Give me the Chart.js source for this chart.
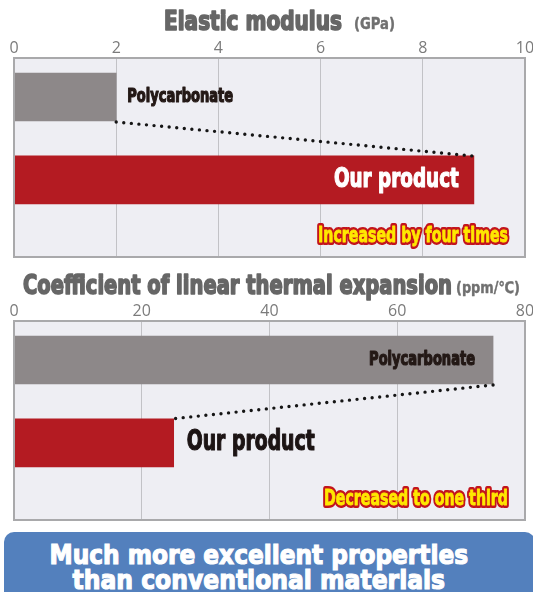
<!DOCTYPE html>
<html lang="en">
<head>
<meta charset="UTF-8">
<title>Elastic modulus and thermal expansion</title>
<script src="https://cdn.jsdelivr.net/npm/chart.js"></script>
<style>
  html, body { margin: 0; padding: 0; background: #fff; }
  body { width: 533px; height: 592px; position: relative; overflow: hidden; }
  canvas { position: absolute; left: 0; }
  #banner { position: absolute; left: 4px; top: 532px; width: 531px; height: 80px;
            background: #5380bd; border-radius: 10px; }
  .bannerLine { position: absolute; left: 0; white-space: nowrap; color: #fff;
                font: bold 26px 'DejaVu Sans', sans-serif; line-height: 26px;
                -webkit-text-stroke: 1.2px #fff; transform-origin: 0 0; }
</style>
</head>
<body>
<canvas id="elasticChart" width="533" height="262" style="top:0"></canvas>
<canvas id="expansionChart" width="533" height="262" style="top:263px"></canvas>
<div id="banner"></div>
<div class="bannerLine" id="line1">Much more excellent properties</div>
<div class="bannerLine" id="line2">than conventional materials</div>

<script>
  // data
  const elasticCategories = ['Polycarbonate', 'Our product'];
  const elasticValues = [2, 9];
  const elasticTicks = [0, 2, 4, 6, 8, 10];
  const elasticTitle = 'Elastic modulus';
  const elasticUnit = '(GPa)';
  const elasticNote = 'Increased by four times';

  const expansionCategories = ['Polycarbonate', 'Our product'];
  const expansionValues = [75, 25];
  const expansionTicks = [0, 20, 40, 60, 80];
  const expansionTitle = 'Coefficient of linear thermal expansion';
  const expansionUnit = '(ppm/℃)';
  const expansionNote = 'Decreased to one third';

  const GRAY = '#8d8889';
  const RED = '#b41b22';
  const CONDENSED = "'Liberation Sans Narrow', 'DejaVu Sans Condensed', sans-serif";

  // draws bold condensed text squeezed to a given width, a bit heavier than the font
  function fitText(ctx, text, x, y, size, width, align, color, stroke, heavy) {
    ctx.save();
    ctx.font = 'bold ' + size + 'px ' + CONDENSED;
    const sx = width / ctx.measureText(text).width;
    ctx.translate(x, y);
    ctx.scale(sx, 1);
    ctx.textAlign = align;
    ctx.textBaseline = 'middle';
    ctx.lineJoin = 'round';
    if (stroke) {
      ctx.lineWidth = 6;
      ctx.strokeStyle = stroke;
      ctx.strokeText(text, 0, 0);
    }
    if (heavy) {
      ctx.lineWidth = heavy;
      ctx.strokeStyle = color;
      ctx.strokeText(text, 0, 0);
    }
    ctx.fillStyle = color;
    ctx.fillText(text, 0, 0);
    ctx.restore();
  }

  const panelPlugin = {
    id: 'panel',
    beforeDraw(chart) {
      const a = chart.chartArea, ctx = chart.ctx;
      ctx.save();
      ctx.fillStyle = '#eeeef3';
      ctx.fillRect(a.left, a.top, a.right - a.left, a.bottom - a.top);
      ctx.restore();
    },
    afterDatasetsDraw(chart, args, opts) {
      const ctx = chart.ctx, a = chart.chartArea;
      const bars = chart.getDatasetMeta(0).data;
      const b0 = bars[0], b1 = bars[1];

      // dotted connector between the bar ends
      ctx.save();
      ctx.strokeStyle = '#151515';
      ctx.lineWidth = 3.4;
      ctx.lineCap = 'round';
      ctx.setLineDash([0, 7.6]);
      ctx.beginPath();
      ctx.moveTo(b0.x, b0.y + b0.height / 2 + 1);
      ctx.lineTo(b1.x - 2, b1.y - b1.height / 2);
      ctx.stroke();
      ctx.restore();

      // frame
      ctx.save();
      ctx.strokeStyle = '#a9a9ab';
      ctx.lineWidth = 2;
      ctx.strokeRect(a.left, a.top, a.right - a.left, a.bottom - a.top);
      ctx.restore();

      // bar labels
      opts.labels.forEach((l, i) => {
        const b = bars[i];
        fitText(ctx, chart.data.labels[i], b.x + l.dx, b.y, l.size, l.width,
                l.dx < 0 ? 'right' : 'left', l.color, null, 1.2);
      });

      // note in the lower right corner
      fitText(ctx, opts.note, a.right - 17, a.bottom - 21, 22, opts.noteWidth,
              'right', '#ffe800', '#c3141c', 0.8);

      // title and unit
      fitText(ctx, opts.title, opts.titleX, opts.titleY, 26, opts.titleWidth, 'left', '#666666', null, 1.6);
      fitText(ctx, opts.unit, opts.unitX, opts.titleY + 2, 16, opts.unitWidth, 'left', '#707070', null, 0.4);
    }
  };

  function makeChart(id, categories, values, ticks, plugOpts) {
    const ctx = document.getElementById(id).getContext('2d');
    return new Chart(ctx, {
      type: 'bar',
      data: {
        labels: categories,
        datasets: [{
          data: categories.map((c, i) => ({ x: values[i], y: i })),
          backgroundColor: [GRAY, RED],
          barThickness: 48
        }]
      },
      options: {
        indexAxis: 'y',
        responsive: false,
        animation: false,
        devicePixelRatio: 1,
        layout: { padding: { left: 14, right: 8, top: 0, bottom: 5 } },
        plugins: {
          legend: { display: false },
          tooltip: { enabled: false },
          panel: plugOpts
        },
        scales: {
          x: {
            position: 'top',
            min: ticks[0],
            max: ticks[ticks.length - 1],
            afterBuildTicks: s => { s.ticks = ticks.map(v => ({ value: v })); },
            afterFit: s => { s.height = 58; s.paddingLeft = 0; s.paddingRight = 0; },
            grid: { color: '#c2c2c6', lineWidth: 1, drawTicks: false },
            border: { display: false },
            ticks: { padding: 0, color: '#7b7b7b', font: { family: "'Open Sans', sans-serif", size: 16 } }
          },
          y: {
            type: 'linear', display: false, reverse: true, offset: false,
            grid: { offset: false },
            min: -0.47, max: 1.93
          }
        }
      },
      plugins: [panelPlugin]
    });
  }

  makeChart('elasticChart', elasticCategories, elasticValues, elasticTicks, {
    title: elasticTitle, unit: elasticUnit, note: elasticNote,
    titleX: 164, titleY: 23, titleWidth: 178, unitX: 354, unitWidth: 41, noteWidth: 190,
    labels: [
      { dx: 11, size: 19, width: 106, color: '#231815' },
      { dx: -15, size: 27, width: 125, color: '#ffffff' }
    ]
  });

  makeChart('expansionChart', expansionCategories, expansionValues, expansionTicks, {
    title: expansionTitle, unit: expansionUnit, note: expansionNote,
    titleX: 23, titleY: 24, titleWidth: 429, unitX: 456, unitWidth: 64, noteWidth: 184,
    labels: [
      { dx: -18, size: 19, width: 106, color: '#231815' },
      { dx: 13, size: 28, width: 128, color: '#1c1414' }
    ]
  });

  // squeeze the banner lines to the widths in the picture
  [['line1', 419, 554.6], ['line2', 373, 580]].forEach(([id, target, cy]) => {
    const el = document.getElementById(id);
    const w = el.offsetWidth;
    const s = target / w;
    el.style.top = (cy - 13) + 'px';
    el.style.transform = 'translate(' + (259 - target / 2) + 'px, 0) scaleX(' + s + ')';
  });
</script>
</body>
</html>
